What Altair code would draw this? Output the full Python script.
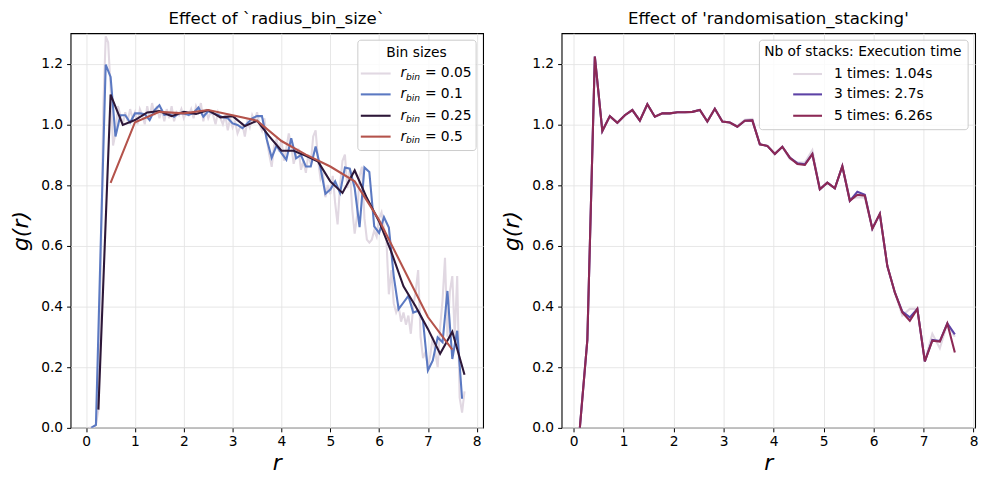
import altair as alt
import pandas as pd

# ---- g(r) for four radial bin sizes ----
BIN_LABELS = ["0.05", "0.1", "0.25", "0.5"]
BIN_WIDTHS = [0.05, 0.1, 0.25, 0.5]

g_bin_005 = [
    0.0, 0.0, 0.0, 0.01, 0.06, 0.55, 1.05, 1.29, 1.27, 1.12,
    0.93, 0.97, 1.06, 1.03, 1.0, 1.04, 1.01, 1.05, 1.02, 1.04,
    1.0, 1.05, 1.03, 1.0, 1.06, 1.02, 1.07, 1.03, 1.06, 1.02,
    1.05, 1.01, 1.05, 1.02, 1.06, 1.01, 1.04, 1.03, 1.05, 1.02,
    1.04, 1.03, 1.05, 1.02, 1.06, 1.04, 1.07, 1.01, 1.05, 1.02,
    1.04, 1.03, 1.0, 1.04, 1.02, 1.0, 1.03, 0.98, 1.02, 0.99,
    1.01, 0.97, 0.99, 1.0, 0.96, 1.01, 0.99, 1.03, 1.01, 1.04,
    1.0, 0.98, 1.02, 0.95, 0.9, 0.86, 0.93, 0.95, 0.91, 0.95,
    0.88, 0.92, 0.97, 0.93, 0.87, 0.9, 0.92, 0.85, 0.88, 0.84,
    0.9, 0.87, 0.96, 0.98, 0.88, 0.82, 0.84, 0.76, 0.8, 0.77,
    0.83, 0.74, 0.67, 0.8, 0.88, 0.9, 0.79, 0.85, 0.72, 0.64,
    0.7, 0.83, 0.86, 0.69, 0.62, 0.61, 0.62, 0.65, 0.63, 0.69,
    0.71, 0.66, 0.62, 0.44, 0.52, 0.41, 0.38, 0.4, 0.35, 0.38,
    0.34, 0.37, 0.31, 0.4, 0.45, 0.52, 0.3, 0.23, 0.25, 0.2,
    0.24, 0.3, 0.25, 0.2, 0.33, 0.42, 0.56, 0.3, 0.45, 0.5,
    0.3, 0.5, 0.1, 0.05, 0.12,
]
g_bin_01 = [
    0.0, 0.01, 0.62, 1.197, 1.156, 0.96, 1.03, 1.03, 1.006, 1.036,
    1.036, 1.033, 1.014, 1.047, 1.063, 1.031, 1.034, 1.025, 1.036, 1.036,
    1.031, 1.038, 1.055, 1.025, 1.044, 1.036, 1.031, 1.023, 1.02, 1.003,
    0.998, 0.987, 1.003, 1.02, 1.027, 1.027, 0.95, 0.89, 0.93, 0.905,
    0.883, 0.954, 0.888, 0.899, 0.861, 0.861, 0.927, 0.856, 0.771, 0.785,
    0.812, 0.774, 0.858, 0.854, 0.79, 0.661, 0.858, 0.843, 0.664, 0.642,
    0.694, 0.66, 0.5, 0.391, 0.413, 0.435, 0.38, 0.386, 0.353, 0.189,
    0.222, 0.298, 0.282, 0.451, 0.227, 0.32, 0.096,
]
g_bin_025 = [
    0.06, 1.098, 0.998, 1.014, 1.039, 1.044, 1.027, 1.041, 1.034, 1.047,
    1.023, 1.027, 0.994, 1.012, 0.96, 0.913, 0.913, 0.896, 0.877, 0.812,
    0.774, 0.848, 0.757, 0.68, 0.58, 0.466, 0.40, 0.326, 0.244, 0.317,
    0.175,
]
g_bin_05 = [
    0.807, 1.007, 1.041, 1.036, 1.047, 1.03, 1.012, 0.945, 0.9, 0.861,
    0.812, 0.685, 0.525, 0.365, 0.258,
]
BIN_SERIES = [g_bin_005, g_bin_01, g_bin_025, g_bin_05]
BIN_COLORS = ["#e1d8e2", "#5b79c2", "#2d1738", "#b4534b"]

# ---- g(r) for several randomisation stacks (bin width 0.15) ----
STACK_LABELS = ["1 times: 1.04s", "3 times: 2.7s", "5 times: 6.26s"]
R_STACK_START, R_STACK_STEP = 0.125, 0.15

g_stack_1 = [
    0.0, 0.29, 1.223, 0.978, 1.027, 1.005, 1.03, 1.047, 1.012, 1.066,
    1.025, 1.036, 1.036, 1.04, 1.04, 1.041, 1.047, 1.009, 1.051, 1.009,
    1.006, 0.995, 1.015, 1.018, 0.934, 0.929, 0.905, 0.926, 0.885, 0.874,
    0.874, 0.915, 0.786, 0.808, 0.789, 0.862, 0.755, 0.76, 0.758, 0.656,
    0.705, 0.533, 0.446, 0.37, 0.392, 0.392, 0.219, 0.31, 0.262, 0.344,
    0.3,
]
g_stack_3 = [
    0.0, 0.29, 1.223, 0.978, 1.027, 1.005, 1.03, 1.047, 1.012, 1.066,
    1.025, 1.036, 1.036, 1.04, 1.04, 1.041, 1.047, 1.009, 1.051, 1.009,
    1.006, 0.992, 1.012, 1.013, 0.934, 0.929, 0.902, 0.926, 0.890, 0.872,
    0.868, 0.902, 0.786, 0.808, 0.789, 0.862, 0.748, 0.778, 0.768, 0.656,
    0.705, 0.533, 0.446, 0.383, 0.364, 0.392, 0.219, 0.29, 0.286, 0.344,
    0.308,
]
g_stack_5 = [
    0.0, 0.29, 1.223, 0.978, 1.027, 1.005, 1.03, 1.047, 1.012, 1.066,
    1.025, 1.036, 1.036, 1.04, 1.04, 1.041, 1.047, 1.009, 1.051, 1.009,
    1.006, 0.992, 1.012, 1.013, 0.934, 0.929, 0.902, 0.926, 0.890, 0.869,
    0.866, 0.902, 0.786, 0.808, 0.789, 0.862, 0.748, 0.768, 0.765, 0.656,
    0.705, 0.533, 0.446, 0.380, 0.353, 0.392, 0.219, 0.287, 0.284, 0.344,
    0.248,
]
STACK_SERIES = [g_stack_1, g_stack_3, g_stack_5]
STACK_COLORS = ["#e1d8e2", "#5d42a6", "#8c2955"]

X_TICKS = list(range(9))
Y_TICKS = [0.0, 0.2, 0.4, 0.6, 0.8, 1.0, 1.2]

FONT = "DejaVu Sans"
PANEL_W, PANEL_H = 415, 397
LINE_W = 2.1


def bin_frame(values, width):
    return pd.DataFrame({"r": [round(width * (i + 1), 4) for i in range(len(values))],
                         "g": values})


def stack_frame(values):
    return pd.DataFrame({"r": [round(R_STACK_START + R_STACK_STEP * i, 4) for i in range(len(values))],
                         "g": values})


def encodings(x_domain):
    x = alt.X("r:Q",
              scale=alt.Scale(domain=x_domain, nice=False, zero=False),
              axis=alt.Axis(values=X_TICKS, title="r", titleFontStyle="italic",
                            titleFontSize=22, titlePadding=4, labelPadding=3))
    y = alt.Y("g:Q",
              scale=alt.Scale(domain=[0, 1.3], nice=False, zero=False),
              axis=alt.Axis(values=Y_TICKS, format=".1f", title="g(r)",
                            titleFontStyle="italic", titleFontSize=22,
                            titlePadding=8, labelPadding=4))
    return x, y


ONE_ROW = pd.DataFrame({"k": [0]})


def legend_layers(box, title, title_xy, rows_y, sample_x, text_x, labels, colors, math=False):
    x0, y0, x1, y1 = box
    out = [alt.Chart(ONE_ROW).mark_rect(
        x=x0, y=y0, x2=x1, y2=y1, fill="white", fillOpacity=0.8,
        stroke="#cccccc", strokeWidth=1, cornerRadius=3)]
    out.append(alt.Chart(ONE_ROW).mark_text(
        x=title_xy[0], y=title_xy[1], text=title, align="center", baseline="middle",
        font=FONT, fontSize=13.9, color="black"))
    for yy, lab, col in zip(rows_y, labels, colors):
        out.append(alt.Chart(ONE_ROW).mark_rule(
            color=col, strokeWidth=LINE_W).encode(
            x=alt.value(sample_x[0]), x2=alt.value(sample_x[1]), y=alt.value(yy)))
        if math:
            # r with an italic "bin" subscript, then the value
            out.append(alt.Chart(ONE_ROW).mark_text(
                x=text_x, y=yy, text="r", align="left", baseline="middle",
                font=FONT, fontSize=13.9, fontStyle="italic", color="black"))
            out.append(alt.Chart(ONE_ROW).mark_text(
                x=text_x + 5.5, y=yy + 3.5, text="bin", align="left", baseline="middle",
                font=FONT, fontSize=9.2, fontStyle="italic", color="black"))
            out.append(alt.Chart(ONE_ROW).mark_text(
                x=text_x + 24.5, y=yy, text="= " + lab, align="left", baseline="middle",
                font=FONT, fontSize=13.9, color="black"))
        else:
            out.append(alt.Chart(ONE_ROW).mark_text(
                x=text_x, y=yy, text=lab, align="left", baseline="middle",
                font=FONT, fontSize=13.9, color="black"))
    return out


# left panel: bin sizes
xl, yl = encodings([-0.32, 8.13])
left_lines = [
    alt.Chart(bin_frame(vals, w)).mark_line(color=c, strokeWidth=LINE_W, clip=True).encode(x=xl, y=yl)
    for vals, w, c in zip(BIN_SERIES, BIN_WIDTHS, BIN_COLORS)
]
left_legend = legend_layers(
    box=(289, 7, 408, 118), title="Bin sizes", title_xy=(348, 19.5),
    rows_y=[40.5, 61.5, 83, 104], sample_x=(292, 322), text_x=332,
    labels=BIN_LABELS, colors=BIN_COLORS, math=True)
left = alt.layer(*left_lines, *left_legend).properties(
    width=PANEL_W, height=PANEL_H,
    title=alt.TitleParams("Effect of `radius_bin_size`", offset=6))

# right panel: randomisation stacking
xr, yr = encodings([-0.24, 8.03])
right_lines = [
    alt.Chart(stack_frame(vals)).mark_line(color=c, strokeWidth=LINE_W, clip=True).encode(x=xr, y=yr)
    for vals, c in zip(STACK_SERIES, STACK_COLORS)
]
right_legend = legend_layers(
    box=(199, 7, 409, 97), title="Nb of stacks: Execution time", title_xy=(303, 19),
    rows_y=[41, 61.5, 83], sample_x=(233, 262), text_x=274,
    labels=STACK_LABELS, colors=STACK_COLORS, math=False)
right = alt.layer(*right_lines, *right_legend).properties(
    width=PANEL_W + 1, height=PANEL_H,
    title=alt.TitleParams("Effect of 'randomisation_stacking'", offset=6))

chart = alt.hconcat(left, right, spacing=16).properties(
    padding={"left": 9, "top": 8, "right": 10, "bottom": 5}
).configure_view(
    stroke="black", strokeWidth=1.1
).configure_axis(
    grid=True, gridColor="#e4e4e4", gridWidth=0.9,
    domain=False, tickColor="black", tickSize=4, tickWidth=1,
    labelFont=FONT, labelFontSize=13.9, labelColor="black",
    titleFont=FONT, titleFontWeight="normal", titleColor="black",
).configure_title(
    font=FONT, fontSize=16.7, fontWeight="normal", color="black", anchor="middle"
)

chart.save("out.html", embed_options={"renderer": "svg", "actions": False})
